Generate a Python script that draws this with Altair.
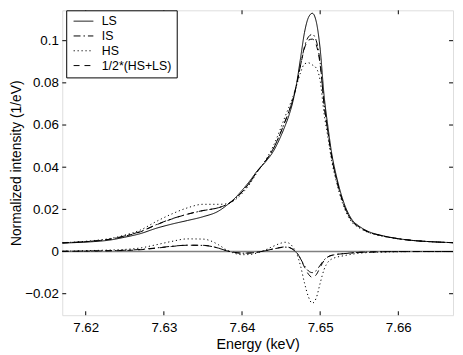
import altair as alt
import pandas as pd

# ---- data ----
energy = [7.617, 7.619, 7.621, 7.623, 7.625, 7.627, 7.629, 7.631, 7.633, 7.635,
          7.637, 7.638, 7.639, 7.640, 7.641, 7.642, 7.643, 7.644, 7.645, 7.6455,
          7.646, 7.6465, 7.647, 7.6475, 7.648, 7.6485, 7.649, 7.6495, 7.650, 7.6505,
          7.651, 7.6515, 7.652, 7.653, 7.654, 7.655, 7.656, 7.658, 7.660, 7.662,
          7.664, 7.667]

ls = [0.0040, 0.0043, 0.0047, 0.0054, 0.0068, 0.0085, 0.0110, 0.0130, 0.0147, 0.0165,
      0.0192, 0.0218, 0.0250, 0.0290, 0.0335, 0.0385, 0.0425, 0.0475, 0.0550, 0.0595,
      0.0645, 0.0710, 0.0800, 0.0920, 0.1040, 0.1110, 0.1130, 0.1090, 0.0960, 0.0740,
      0.0590, 0.0460, 0.0370, 0.0235, 0.0155, 0.0120, 0.0098, 0.0075, 0.0061, 0.0052,
      0.0047, 0.0042]

is_ = [0.0041, 0.0045, 0.0050, 0.0058, 0.0074, 0.0095, 0.0127, 0.0155, 0.0177, 0.0194,
       0.0208, 0.0222, 0.0246, 0.0282, 0.0328, 0.0382, 0.0429, 0.0487, 0.0569, 0.0616,
       0.0664, 0.0720, 0.0794, 0.0885, 0.0972, 0.1018, 0.1030, 0.1000, 0.0895, 0.0700,
       0.0565, 0.0442, 0.0356, 0.0225, 0.0148, 0.0116, 0.0095, 0.0074, 0.0061, 0.0052,
       0.0047, 0.0042]

hs = [0.0042, 0.0046, 0.0052, 0.0061, 0.0078, 0.0102, 0.0142, 0.0178, 0.0207, 0.0224,
      0.0224, 0.0226, 0.0242, 0.0275, 0.0321, 0.0379, 0.0433, 0.0500, 0.0590, 0.0639,
      0.0685, 0.0732, 0.0790, 0.0850, 0.0890, 0.0895, 0.0885, 0.0870, 0.0810, 0.0655,
      0.0540, 0.0425, 0.0342, 0.0215, 0.0142, 0.0112, 0.0093, 0.0073, 0.0060, 0.0052,
      0.0047, 0.0042]

avg = [0.0041, 0.00445, 0.00495, 0.00575, 0.0073, 0.00935, 0.0126, 0.0154, 0.0177, 0.01945,
       0.0208, 0.0222, 0.0246, 0.02825, 0.0328, 0.0382, 0.0429, 0.04875, 0.0570, 0.0617,
       0.0665, 0.0721, 0.0795, 0.0885, 0.0965, 0.10025, 0.10075, 0.0980, 0.0885, 0.06975,
       0.0565, 0.04425, 0.0356, 0.0225, 0.01485, 0.0116, 0.00955, 0.0074, 0.00605, 0.0052,
       0.0047, 0.0042]

d_is = [0.0001, 0.0002, 0.0003, 0.0004, 0.0006, 0.0010, 0.0017, 0.0025, 0.0030, 0.0029,
        0.0016, 0.0004, -0.0004, -0.0008, -0.0007, -0.0003, 0.0004, 0.0012, 0.0019, 0.0021,
        0.0019, 0.0010, -0.0006, -0.0035, -0.0068, -0.0092, -0.0100, -0.0090, -0.0065, -0.0040,
        -0.0025, -0.0018, -0.0014, -0.0010, -0.0007, -0.0004, -0.0003, -0.0001, 0.0, 0.0,
        0.0, 0.0]

d_hs = [0.0002, 0.0003, 0.0005, 0.0007, 0.0010, 0.0017, 0.0032, 0.0048, 0.0060, 0.0059,
        0.0032, 0.0008, -0.0008, -0.0015, -0.0014, -0.0006, 0.0008, 0.0025, 0.0040, 0.0044,
        0.0040, 0.0022, -0.0010, -0.0070, -0.0150, -0.0215, -0.0245, -0.0220, -0.0150, -0.0085,
        -0.0050, -0.0035, -0.0028, -0.0020, -0.0013, -0.0008, -0.0005, -0.0002, -0.0001, 0.0,
        0.0, 0.0]

d_avg = [0.0001, 0.00015, 0.00025, 0.00035, 0.0005, 0.00085, 0.0016, 0.0024, 0.0030, 0.00295,
         0.0016, 0.0004, -0.0004, -0.00075, -0.0007, -0.0003, 0.0004, 0.00125, 0.0020, 0.0022,
         0.0020, 0.0011, -0.0005, -0.0035, -0.0075, -0.01075, -0.01225, -0.0110, -0.0075, -0.00425,
         -0.0025, -0.00175, -0.0014, -0.0010, -0.00065, -0.0004, -0.00025, -0.0001, -0.00005, 0.0,
         0.0, 0.0]

series_names = ["LS", "IS", "HS", "1/2*(HS+LS)"]
x_ticks = [7.62, 7.63, 7.64, 7.65, 7.66]
y_ticks = [-0.02, 0.0, 0.02, 0.04, 0.06, 0.08, 0.1]

# ---- long table ----
rows = []
for name, vals, part in [("LS", ls, "main"), ("IS", is_, "main"), ("HS", hs, "main"),
                         ("1/2*(HS+LS)", avg, "main"), ("IS", d_is, "diff"),
                         ("HS", d_hs, "diff"), ("1/2*(HS+LS)", d_avg, "diff")]:
    for e, v in zip(energy, vals):
        rows.append({"E": e, "v": v, "series": name, "part": part})
df = pd.DataFrame(rows)

W, H = 396, 309
FONT = "Liberation Sans"
TL = 4  # inward tick length

xscale = alt.Scale(domain=[7.617, 7.667], nice=False, zero=False)
yscale = alt.Scale(domain=[-0.0302, 0.1144], nice=False, zero=False)
xaxis = alt.Axis(values=x_ticks, format=".2f", ticks=False, tickSize=0, domain=False,
                 grid=False, labelFontSize=13.5, labelPadding=5, labelColor="black",
                 labelFont=FONT, titleFont=FONT, titleFontSize=14.5,
                 titleFontWeight="normal", titleColor="black", titlePadding=4)
yaxis = alt.Axis(values=y_ticks, format="~g", ticks=False, tickSize=0, domain=False,
                 grid=False, labelFontSize=13.5, labelPadding=4, labelColor="black",
                 labelFont=FONT, titleFont=FONT, titleFontSize=14,
                 titleFontWeight="normal", titleColor="black", titlePadding=1)

def X():
    return alt.X("E:Q", scale=xscale, axis=xaxis, title="Energy (keV)")

def Y():
    return alt.Y("v:Q", scale=yscale, axis=yaxis, title="Normalized intensity (1/eV)")

zero_line = alt.Chart(pd.DataFrame({"v": [0.0]})).mark_rule(
    color="#808080", strokeWidth=1.6).encode(y=Y())

lines = alt.Chart(df).mark_line(
    color="black", strokeWidth=1.0, interpolate="monotone", clip=True
).encode(
    x=X(), y=Y(),
    strokeDash=alt.StrokeDash(
        "series:N",
        scale=alt.Scale(domain=series_names,
                        range=[[1, 0], [7, 3, 1.5, 3], [1.2, 2.8], [6, 5]]),
        legend=alt.Legend(
            title=None, orient="none", legendX=4, legendY=0,
            strokeColor="black", fillColor="white", padding=5, cornerRadius=0,
            symbolType="stroke", symbolSize=400, symbolStrokeWidth=1,
            symbolStrokeColor="black", symbolOffset=2, labelFont=FONT,
            labelFontSize=12.5, labelColor="black", labelOffset=8,
            clipHeight=12, rowPadding=2,
        ),
    ),
    detail="part:N",
    order="E:Q",
)

xt = pd.DataFrame({"E": x_ticks})
yt = pd.DataFrame({"v": y_ticks})
tick_bottom = alt.Chart(xt).mark_rule(color="black", strokeWidth=1).encode(
    x=X(), y=alt.value(H), y2=alt.value(H - TL))
tick_top = alt.Chart(xt).mark_rule(color="black", strokeWidth=1).encode(
    x=X(), y=alt.value(0), y2=alt.value(TL))
tick_left = alt.Chart(yt).mark_rule(color="black", strokeWidth=1).encode(
    y=Y(), x=alt.value(0), x2=alt.value(TL))
tick_right = alt.Chart(yt).mark_rule(color="black", strokeWidth=1).encode(
    y=Y(), x=alt.value(W), x2=alt.value(W - TL))

chart = alt.layer(zero_line, lines, tick_bottom, tick_top, tick_left, tick_right).properties(
    width=W, height=H,
    autosize=alt.AutoSizeParams(type="none"),
    padding={"left": 55, "top": 0, "right": 2, "bottom": 40},
).configure_view(
    stroke="black", strokeWidth=1
).configure(
    background="white", font=FONT
)

chart.save("out.html", embed_options={"renderer": "svg", "actions": False})
